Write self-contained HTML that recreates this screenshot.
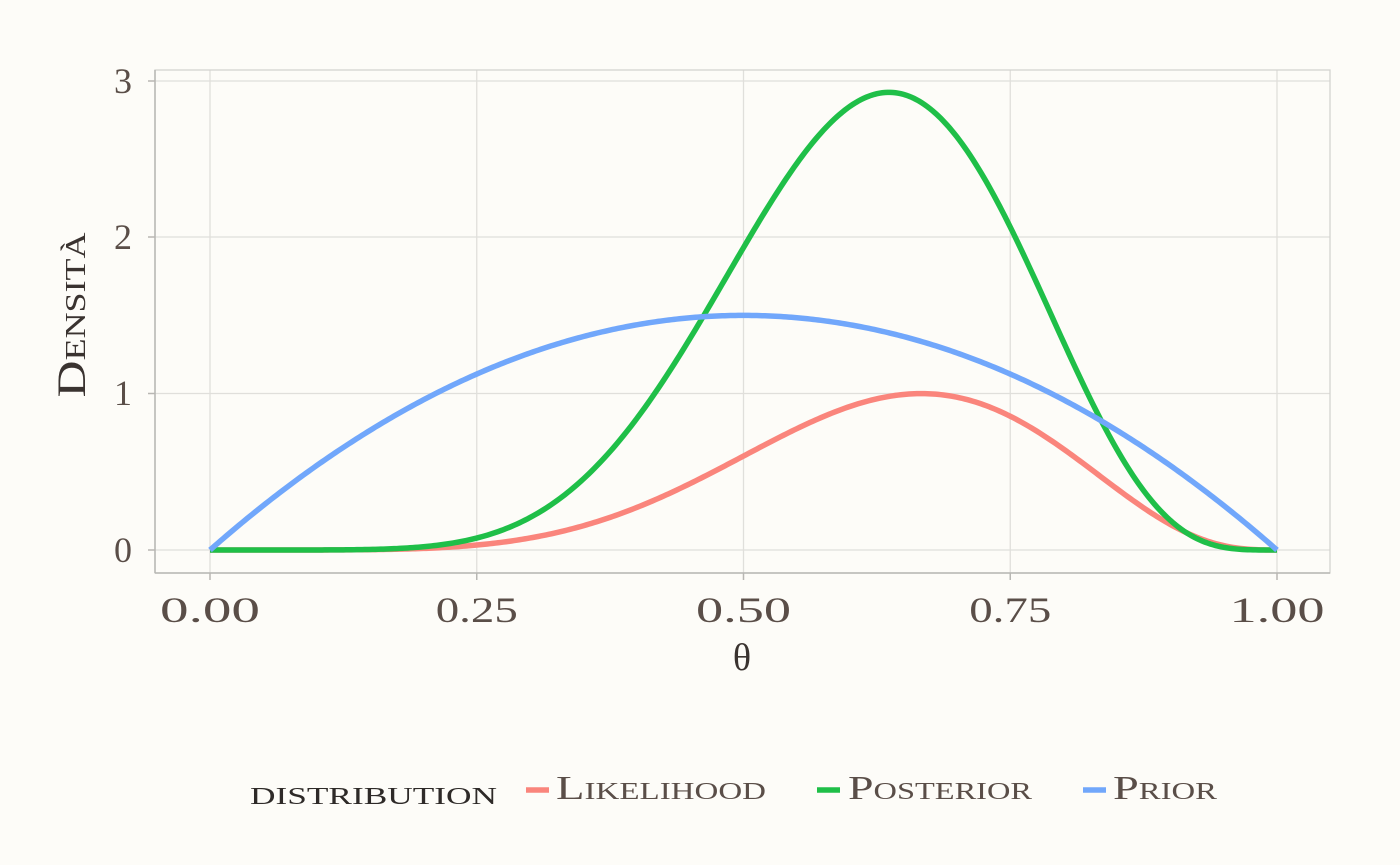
<!DOCTYPE html>
<html><head><meta charset="utf-8"><style>
html,body{margin:0;padding:0;background:#fdfcf8;}
svg{display:block;font-family:"Liberation Serif",serif;}
</style></head><body>
<svg id="s" width="1400" height="865" viewBox="0 0 1400 865">
<rect width="1400" height="865" fill="#fdfcf8"/>
<g stroke="#e0dfdb" stroke-width="1.3">
<line x1="155" x2="1330" y1="550" y2="550"/><line x1="155" x2="1330" y1="393.5" y2="393.5"/>
<line x1="155" x2="1330" y1="237" y2="237"/><line x1="155" x2="1330" y1="81" y2="81"/>
<line y1="70" y2="573" x1="210" x2="210"/><line y1="70" y2="573" x1="476.75" x2="476.75"/>
<line y1="70" y2="573" x1="743.5" x2="743.5"/><line y1="70" y2="573" x1="1010.25" x2="1010.25"/>
<line y1="70" y2="573" x1="1277" x2="1277"/>
</g>
<rect x="155" y="70" width="1175" height="503" fill="none" stroke="#d4d3cf" stroke-width="1.3"/>
<line x1="155" x2="155" y1="70" y2="573" stroke="#b8b7b3" stroke-width="1.5"/>
<line x1="155" x2="1330" y1="573" y2="573" stroke="#b8b7b3" stroke-width="1.5"/>
<g stroke="#b8b7b3" stroke-width="1.5">
<line x1="148" x2="155" y1="550" y2="550"/><line x1="148" x2="155" y1="393.5" y2="393.5"/>
<line x1="148" x2="155" y1="237" y2="237"/><line x1="148" x2="155" y1="81" y2="81"/>
<line y1="573" y2="580" x1="210" x2="210"/><line y1="573" y2="580" x1="476.75" x2="476.75"/>
<line y1="573" y2="580" x1="743.5" x2="743.5"/><line y1="573" y2="580" x1="1010.25" x2="1010.25"/>
<line y1="573" y2="580" x1="1277" x2="1277"/>
</g>
<g fill="#5a4e48" font-size="36" text-anchor="end">
<text x="132" y="562">0</text><text x="132" y="405">1</text><text x="132" y="249">2</text><text x="132" y="93">3</text>
</g>
<g fill="#5a4e48" font-size="36" text-anchor="middle">
<text x="210" y="622" textLength="100" lengthAdjust="spacingAndGlyphs">0.00</text>
<text x="476.75" y="622" textLength="82" lengthAdjust="spacingAndGlyphs">0.25</text>
<text x="743.5" y="622" textLength="95" lengthAdjust="spacingAndGlyphs">0.50</text>
<text x="1010.25" y="622" textLength="82" lengthAdjust="spacingAndGlyphs">0.75</text>
<text x="1277" y="622" textLength="95" lengthAdjust="spacingAndGlyphs">1.00</text>
</g>
<text x="742" y="670" font-size="38" fill="#3a3330" text-anchor="middle">θ</text>
<text transform="translate(85,315) rotate(-90)" font-size="40" fill="#3a3330" text-anchor="middle" style="font-variant:small-caps" textLength="165" lengthAdjust="spacingAndGlyphs">Densità</text>
<path id="lik" fill="none" stroke="#fa857c" stroke-width="5.5"/>
<path id="post" fill="none" stroke="#1fbf48" stroke-width="5.5"/>
<path id="prior" fill="none" stroke="#71a7fb" stroke-width="5.5"/>
<text x="250" y="804" font-size="34" fill="#2e2a28" style="font-variant:small-caps" textLength="247" lengthAdjust="spacingAndGlyphs">distribution</text>
<line x1="526" x2="549" y1="790" y2="790" stroke="#fa857c" stroke-width="5.5"/>
<text x="556" y="799" font-size="34" fill="#5a4e48" style="font-variant:small-caps" textLength="210" lengthAdjust="spacingAndGlyphs">Likelihood</text>
<line x1="817" x2="840" y1="790" y2="790" stroke="#1fbf48" stroke-width="5.5"/>
<text x="848" y="799" font-size="34" fill="#5a4e48" style="font-variant:small-caps" textLength="184" lengthAdjust="spacingAndGlyphs">Posterior</text>
<line x1="1083" x2="1106" y1="790" y2="790" stroke="#71a7fb" stroke-width="5.5"/>
<text x="1113" y="799" font-size="34" fill="#5a4e48" style="font-variant:small-caps" textLength="104" lengthAdjust="spacingAndGlyphs">Prior</text>
</svg>
<script>
function X(t){return 210+t*1067;}function Y(v){return 550-v*156.4;}
function mk(f){var d="";for(var i=0;i<=400;i++){var t=i/400;d+=(i?"L":"M")+X(t).toFixed(2)+","+Y(f(t)).toFixed(2);}return d;}
var m=Math.pow(2/3,6)*Math.pow(1/3,3);
document.getElementById("lik").setAttribute("d",mk(function(t){return Math.pow(t,6)*Math.pow(1-t,3)/m;}));
document.getElementById("post").setAttribute("d",mk(function(t){return 3960*Math.pow(t,7)*Math.pow(1-t,4);}));
document.getElementById("prior").setAttribute("d",mk(function(t){return 6*t*(1-t);}));
</script>
</body></html>
